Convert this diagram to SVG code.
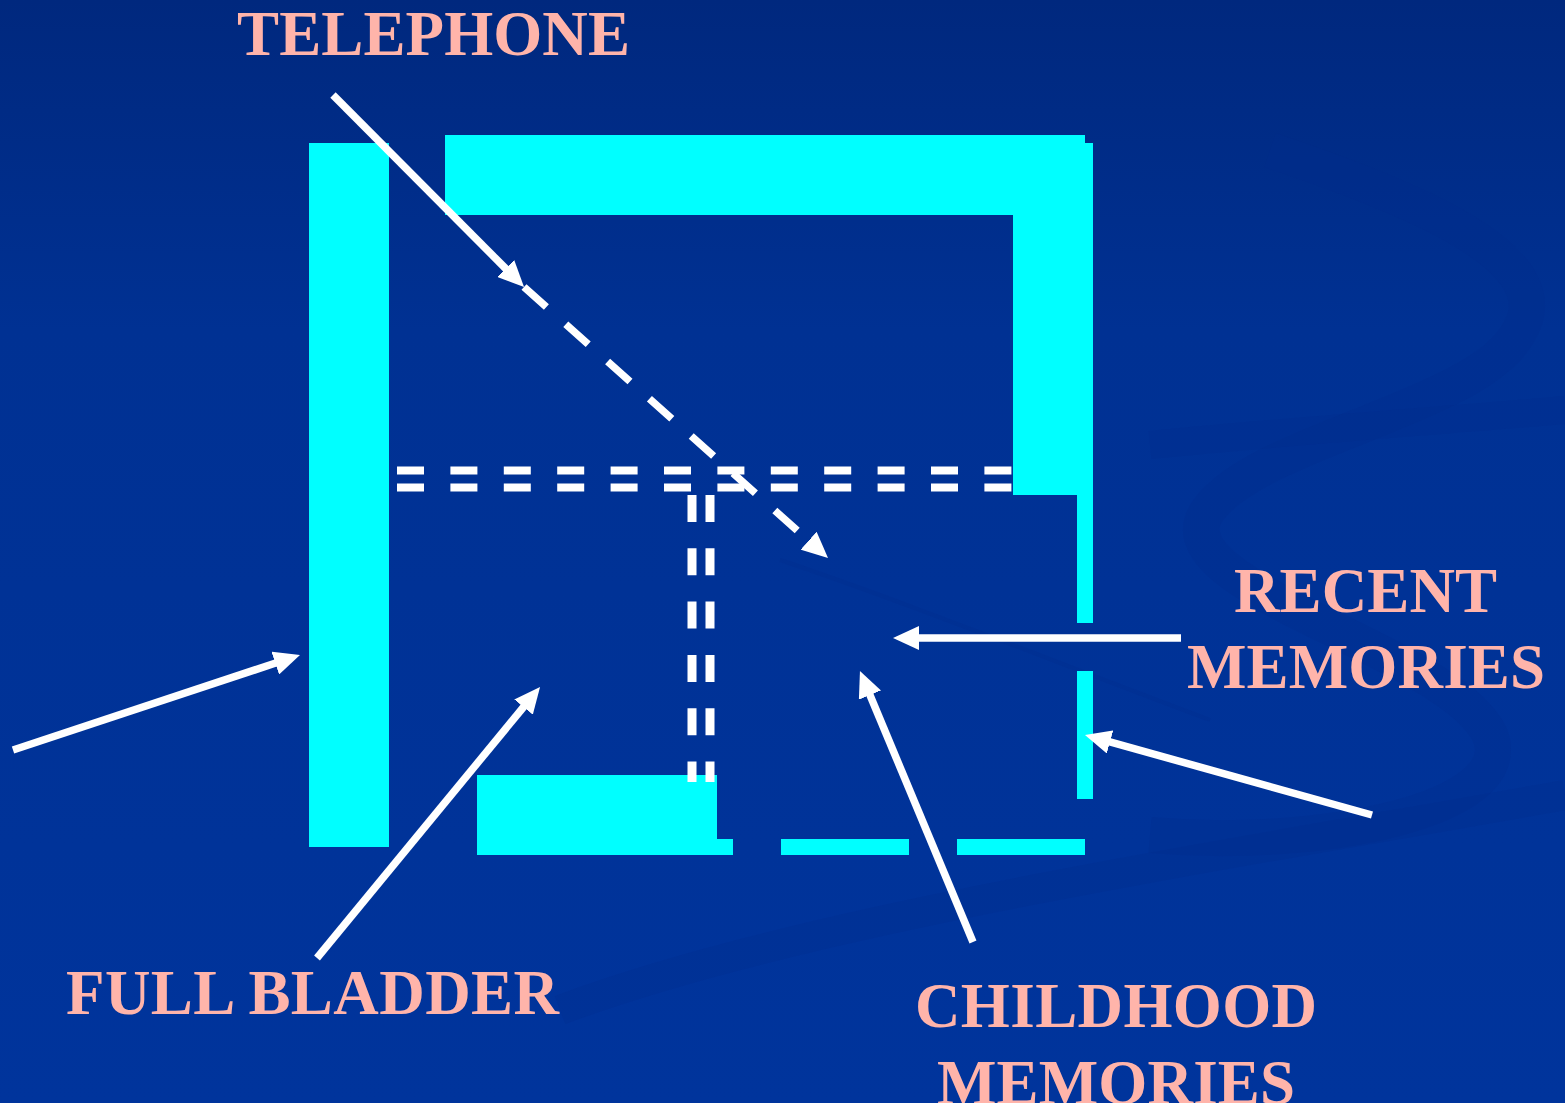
<svg xmlns="http://www.w3.org/2000/svg" width="1565" height="1103" viewBox="0 0 1565 1103">
<defs>
<linearGradient id="bg" x1="0" y1="0" x2="0" y2="1">
<stop offset="0" stop-color="#00287e"/>
<stop offset="0.3" stop-color="#003193"/>
<stop offset="1" stop-color="#00349c"/>
</linearGradient>
<marker id="head" viewBox="0 0 26 24" refX="2" refY="12" markerWidth="26" markerHeight="24" markerUnits="userSpaceOnUse" orient="auto">
<path d="M0,0 L26,12 L0,24 Z" fill="#ffffff"/>
</marker>
<style>
.cy{fill:#00ffff}
.arrow{stroke:#ffffff;stroke-width:7.5;fill:none;marker-end:url(#head)}
.dash2{stroke:#ffffff;fill:none}
.lbl{font-family:"Liberation Serif","Times New Roman",serif;font-weight:bold;font-size:63px;fill:#ffb4aa}
.swirl{fill:none;stroke:#002d8c;opacity:0.25}
</style>
</defs>
<rect width="1565" height="1103" fill="url(#bg)"/>
<g id="background-swirls">
<path class="swirl" stroke-width="36" d="M1270,150 C1420,200 1560,260 1520,330 C1480,410 1250,440 1205,515 C1165,590 1450,650 1490,735 C1520,810 1320,850 1150,835"/>
<path class="swirl" stroke-width="28" d="M1150,445 C1300,430 1450,420 1565,410"/>
<path class="swirl" stroke-width="30" d="M560,1010 C800,920 1200,860 1565,795"/>
<path class="swirl" stroke-width="4" d="M780,560 C900,600 1050,660 1210,720"/>
</g>
<g id="maze">
<rect class="cy" x="309" y="143" width="80" height="704"/>
<rect class="cy" x="445" y="135" width="640" height="80"/>
<rect class="cy" x="1085" y="143" width="8" height="72"/>
<rect class="cy" x="1013" y="215" width="80" height="280"/>
<rect class="cy" x="1077" y="495" width="16" height="128"/>
<rect class="cy" x="1077" y="671" width="16" height="128"/>
<rect class="cy" x="477" y="775" width="240" height="80"/>
<rect class="cy" x="717" y="839" width="16" height="16"/>
<rect class="cy" x="781" y="839" width="128" height="16"/>
<rect class="cy" x="957" y="839" width="128" height="16"/>
</g>
<g id="paths">
<line class="dash2" x1="397" y1="470.5" x2="1012" y2="470.5" stroke-width="8" stroke-dasharray="27 26.4"/>
<line class="dash2" x1="397" y1="487.5" x2="1012" y2="487.5" stroke-width="8" stroke-dasharray="27 26.4"/>
<line class="dash2" x1="692" y1="495" x2="692" y2="782" stroke-width="9" stroke-dasharray="27 26.3"/>
<line class="dash2" x1="710" y1="495" x2="710" y2="782" stroke-width="9" stroke-dasharray="27 26.3"/>
</g>
<g id="connectors">
<line class="arrow" x1="333" y1="95" x2="507.1" y2="270"/>
<line class="arrow" x1="524" y1="287" x2="810.1" y2="542" stroke-width="8" stroke-dasharray="30 26"/>
<line class="arrow" x1="13" y1="750" x2="277.2" y2="662.5"/>
<line class="arrow" x1="317" y1="958" x2="524.8" y2="705.5"/>
<line class="arrow" x1="1181" y1="638" x2="917" y2="638" stroke-width="8"/>
<line class="arrow" x1="1372" y1="815" x2="1108.1" y2="741.4"/>
<line class="arrow" x1="973" y1="942" x2="869.2" y2="693.2"/>
</g>
<g id="label-telephone"><text class="lbl" x="237" y="55" textLength="393" lengthAdjust="spacing">TELEPHONE</text></g>
<g id="label-recent"><text class="lbl" x="1234" y="612" textLength="263" lengthAdjust="spacing">RECENT</text><text class="lbl" x="1187" y="688" textLength="358" lengthAdjust="spacing">MEMORIES</text></g>
<g id="label-bladder"><text class="lbl" x="66" y="1014" textLength="493" lengthAdjust="spacing">FULL BLADDER</text></g>
<g id="label-childhood"><text class="lbl" x="915" y="1027" textLength="402" lengthAdjust="spacing">CHILDHOOD</text><text class="lbl" x="937" y="1104" textLength="358" lengthAdjust="spacing">MEMORIES</text></g>
</svg>
